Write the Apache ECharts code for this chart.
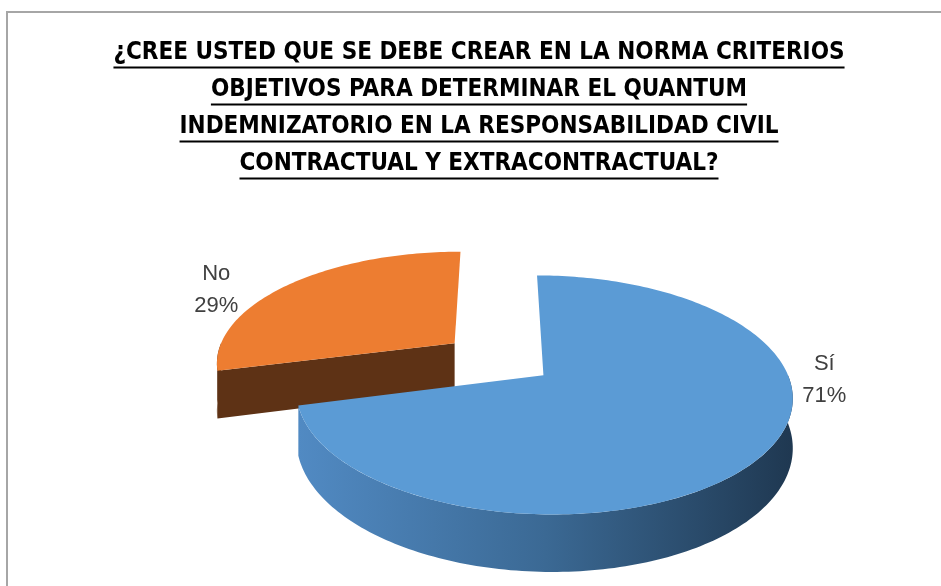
<!DOCTYPE html>
<html>
<head>
<meta charset="utf-8">
<script src="https://cdn.jsdelivr.net/npm/echarts@6/dist/echarts.min.js"></script>
<style>
  html, body { margin: 0; padding: 0; background: #fff; }
  #main { width: 941px; height: 586px; }
</style>
</head>
<body>
<div id="main"></div>
<script>
// chart data
const categories = ['Sí', 'No']
const values = [71, 29]
const titleLines = [
  '¿CREE USTED QUE SE DEBE CREAR EN LA NORMA CRITERIOS',
  'OBJETIVOS PARA DETERMINAR EL QUANTUM',
  'INDEMNIZATORIO EN LA RESPONSABILIDAD CIVIL',
  'CONTRACTUAL Y EXTRACONTRACTUAL?'
]

// 3d pie look
const CX = 498
const CY = 359
const RX = 239
const RY = 111
const DEPTH = 47
const PERSP = 0.16
const EXPLODE = 0.235
const labelAngle = [92, 296] // degrees, clockwise from 12 o'clock
const labelRadius = [1.14, 1.25]
const topColors = ['#5B9BD5', '#ED7D31']
const sideColors = [
  new echarts.graphic.LinearGradient(0, 0, 1, 0, [
    { offset: 0, color: '#518AC3' },
    { offset: 0.5, color: '#3B6994' },
    { offset: 1, color: '#1F3851' }
  ]),
  '#5E3215'
]

const TITLE_FONT = 'bold 24px "DejaVu Sans Condensed", "Liberation Sans Narrow", sans-serif'

const total = values.reduce((a, b) => a + b, 0)

function renderItem(params, api) {
  const idx = params.dataIndex
  const val = api.value(0)
  let start = 0
  for (let i = 0; i < idx; i++) start += values[i]
  const a0 = start / total * Math.PI * 2
  const a1 = (start + val) / total * Math.PI * 2
  const mid = (a0 + a1) / 2
  const ox = EXPLODE * Math.sin(mid)
  const oz = -EXPLODE * Math.cos(mid)

  const proj = (X, Z, down) => {
    const s = 1 / (1 - PERSP * Z)
    return [CX + RX * X * s, CY + (RY * Z + down) * s]
  }
  const pt = (t, r, down) => proj(ox + r * Math.sin(t), oz - r * Math.cos(t), down)
  const arc = (t0, t1, down) => {
    const n = Math.max(2, Math.ceil(Math.abs(t1 - t0) / 0.02))
    const pts = []
    for (let i = 0; i <= n; i++) pts.push(pt(t0 + (t1 - t0) * i / n, 1, down))
    return pts
  }

  const zBase = oz > 0 ? 10 : 0
  const children = []

  // outer wall (front half only)
  const lo = Math.max(a0, Math.PI / 2)
  const hi = Math.min(a1, Math.PI * 1.5)
  if (hi > lo) {
    const pts = arc(lo, hi, 0).concat(arc(hi, lo, DEPTH))
    children.push({
      type: 'polygon', z2: zBase + 1,
      shape: { points: pts },
      style: { fill: sideColors[idx] }
    })
  }
  // radial cut faces
  const face = (t) => [pt(t, 0, 0), pt(t, 1, 0), pt(t, 1, DEPTH), pt(t, 0, DEPTH)]
  if (Math.sin(a0) < -1e-6) {
    children.push({ type: 'polygon', z2: zBase + 1, shape: { points: face(a0) }, style: { fill: sideColors[idx] } })
  }
  if (Math.sin(a1) > 1e-6) {
    children.push({ type: 'polygon', z2: zBase + 1, shape: { points: face(a1) }, style: { fill: sideColors[idx] } })
  }
  // top face
  children.push({
    type: 'polygon', z2: zBase + 2,
    shape: { points: [pt(a0, 0, 0)].concat(arc(a0, a1, 0)) },
    style: { fill: topColors[idx] }
  })
  // label
  const la = labelAngle[idx] * Math.PI / 180
  const lp = pt(la, labelRadius[idx], 0)
  children.push({
    type: 'text', z2: 30,
    x: lp[0], y: lp[1],
    style: {
      text: categories[idx] + '\n' + Math.round(val / total * 100) + '%',
      fontFamily: '"Liberation Sans", Arial, sans-serif',
      fontSize: 22,
      lineHeight: 32,
      fill: '#404040',
      align: 'center',
      verticalAlign: 'middle'
    }
  })
  return { type: 'group', children: children }
}

// title lines with underline
const ctx = document.createElement('canvas').getContext('2d')
ctx.font = TITLE_FONT
const titleGraphics = []
titleLines.forEach((line, i) => {
  const top = 34 + i * 37
  const w = ctx.measureText(line).width
  titleGraphics.push({
    type: 'text', x: 479, y: top,
    style: {
      text: line, font: TITLE_FONT, fill: '#000',
      align: 'center', verticalAlign: 'top', lineHeight: 37
    }
  })
  titleGraphics.push({
    type: 'line',
    shape: { x1: 479 - w / 2, y1: top + 33.5, x2: 479 + w / 2, y2: top + 33.5 },
    style: { stroke: '#000', lineWidth: 2 }
  })
})

const chart = echarts.init(document.getElementById('main'), null, { renderer: 'canvas' })
chart.setOption({
  animation: false,
  graphic: [
    {
      type: 'polyline',
      shape: { points: [[7, 586], [7, 12], [941, 12]] },
      style: { stroke: '#a6a6a6', lineWidth: 2, fill: null }
    }
  ].concat(titleGraphics),
  series: [{
    type: 'custom',
    coordinateSystem: 'none',
    renderItem: renderItem,
    data: values.map((v, i) => ({ name: categories[i], value: v }))
  }]
})
</script>
</body>
</html>
